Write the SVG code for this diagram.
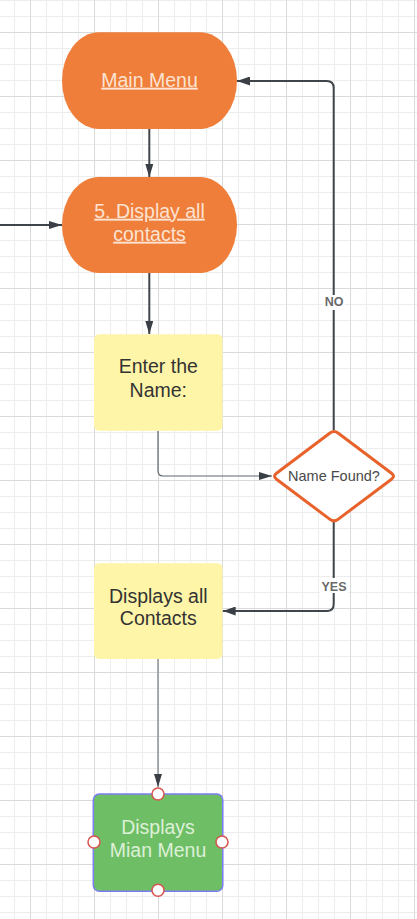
<svg xmlns="http://www.w3.org/2000/svg" width="417" height="919" viewBox="0 0 417 919">
<style>
.t{font-family:"Liberation Sans",Arial,sans-serif;text-anchor:middle}
.term{fill:#EF7E3A}
.tt{fill:#FCE3D2;font-size:19.5px;text-decoration:underline}
.proc{fill:#FFF5A8}
.pt{fill:#333333;font-size:19.5px}
.conn{fill:none;stroke:#3F454B;stroke-width:2}
.lbl{font-size:12.5px;font-weight:bold;fill:#6A6A6A}
.handle{fill:#ffffff;stroke:#D9534F;stroke-width:1.5}
</style>
<defs>
<pattern id="grid" patternUnits="userSpaceOnUse" x="14" y="0" width="64" height="64">
<path d="M0.5 0V64M32.5 0V64M48.5 0V64M0 0.5H64M0 16.5H64M0 48.5H64" stroke="#EDEDED" stroke-width="1" fill="none"/>
<path d="M16.5 0V64M0 32.5H64" stroke="#DADADA" stroke-width="1" fill="none"/>
</pattern>
<marker id="ah" viewBox="0 0 13 9" refX="13" refY="4.5" markerWidth="13" markerHeight="9" markerUnits="userSpaceOnUse" orient="auto">
<path d="M0 0L13 4.5L0 9Z" fill="#3A3F45"/>
</marker>
<marker id="ahs" viewBox="0 0 13 8" refX="13" refY="4" markerWidth="13" markerHeight="8" markerUnits="userSpaceOnUse" orient="auto">
<path d="M0 0L13 4L0 8Z" fill="#3A3F45"/>
</marker>
</defs>
<rect width="417" height="919" fill="#ffffff"/>
<rect width="417" height="919" fill="url(#grid)"/>

<g id="connectors">
<path class="conn" d="M149.3 129V177" stroke-width="1.3" marker-end="url(#ahs)"/>
<path class="conn" d="M0 225H62" stroke-width="1.3" marker-end="url(#ahs)"/>
<path class="conn" d="M149.3 273V334" stroke-width="1.3" marker-end="url(#ahs)"/>
<path d="M158 431V471Q158 476 163 476H272" fill="none" stroke="#5F656C" stroke-width="1.2" marker-end="url(#ahs)"/>
<path class="conn" d="M333.7 430V88Q333.7 81 326.7 81H237" marker-end="url(#ah)"/>
<path class="conn" d="M333.7 522V604Q333.7 611 326.7 611H222.7" marker-end="url(#ah)"/>
<path d="M158 659V787" fill="none" stroke="#8E9398" stroke-width="1.5" marker-end="url(#ahs)"/>
<rect x="323" y="295" width="22" height="15" fill="#ffffff"/>
<text class="t lbl" x="334" y="305.7">NO</text>
<rect x="320" y="578" width="28" height="15" fill="#ffffff"/>
<text class="t lbl" x="334" y="590.7">YES</text>
</g>

<g id="main-menu">
<rect class="term" x="62" y="32.3" width="175" height="96.7" rx="37" ry="48.3"/>
<text class="t tt" x="149.5" y="86.7">Main Menu</text>
</g>

<g id="display-all-contacts">
<rect class="term" x="62" y="177" width="175" height="96" rx="37" ry="48"/>
<text class="t tt" x="149.5" y="217.7">5. Display all</text>
<text class="t tt" x="149.5" y="240.7">contacts</text>
</g>

<g id="enter-name">
<rect class="proc" x="94" y="334.3" width="128.5" height="96.4" rx="5"/>
<text class="t pt" x="158.3" y="373.3">Enter the</text>
<text class="t pt" x="158.3" y="397.3">Name:</text>
</g>

<g id="name-found">
<path d="M338 433L391.5 473.2Q395.5 476.2 391.5 479.2L338 519.4Q334 522.4 330 519.4L276.5 479.2Q272.5 476.2 276.5 473.2L330 433Q334 430 338 433Z" fill="#ffffff" stroke="#E8632B" stroke-width="3" stroke-linejoin="round"/>
<text class="t" x="334" y="480.5" font-size="14.5" fill="#4A4A4A">Name Found?</text>
</g>

<g id="displays-all-contacts">
<rect class="proc" x="94" y="563.3" width="128.5" height="95.7" rx="5"/>
<text class="t pt" x="158.3" y="602.7">Displays all</text>
<text class="t pt" x="158.3" y="625">Contacts</text>
</g>

<g id="displays-main-menu">
<rect x="93.3" y="794" width="129.5" height="97.3" rx="6" fill="#6EBE66" stroke="#7C7DF2" stroke-width="1.5"/>
<text class="t" x="158" y="834.3" font-size="19.5" fill="#DDF0D8">Displays</text>
<text class="t" x="158" y="857.3" font-size="19.5" fill="#DDF0D8">Mian Menu</text>
<circle class="handle" cx="158" cy="794" r="6"/>
<circle class="handle" cx="94" cy="842" r="6"/>
<circle class="handle" cx="222" cy="842" r="6"/>
<circle class="handle" cx="158" cy="890.3" r="6"/>
</g>
</svg>
